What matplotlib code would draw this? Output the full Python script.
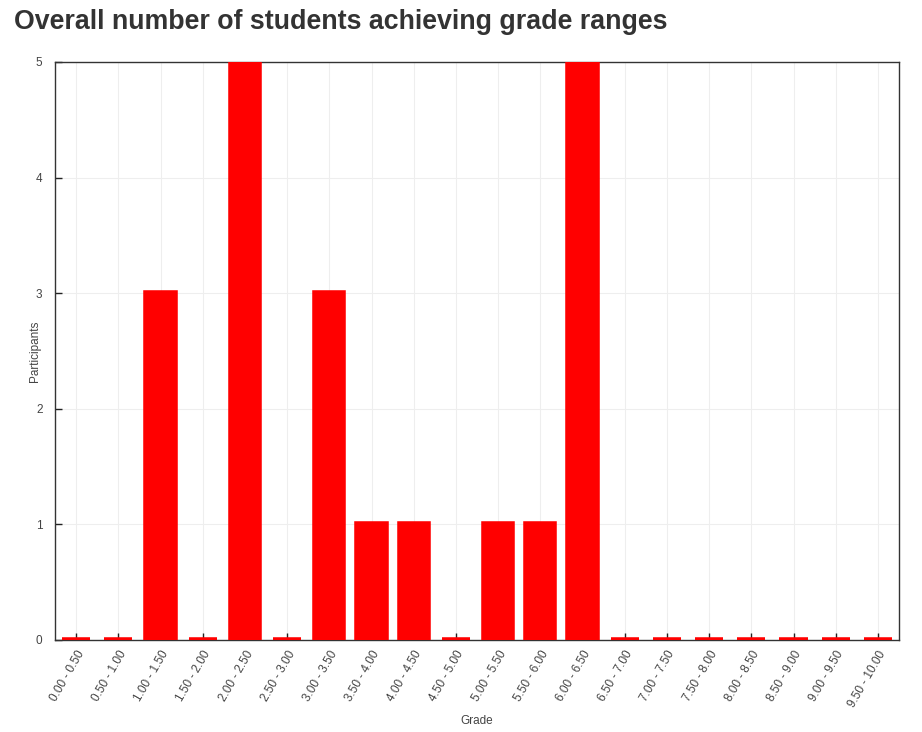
import numpy as np
import matplotlib
matplotlib.use("Agg")
import matplotlib.pyplot as plt

plt.rcParams['font.family'] = ['Liberation Sans', 'DejaVu Sans']

grade_ranges = ["0.00 - 0.50", "0.50 - 1.00", "1.00 - 1.50", "1.50 - 2.00",
                "2.00 - 2.50", "2.50 - 3.00", "3.00 - 3.50", "3.50 - 4.00",
                "4.00 - 4.50", "4.50 - 5.00", "5.00 - 5.50", "5.50 - 6.00",
                "6.00 - 6.50", "6.50 - 7.00", "7.00 - 7.50", "7.50 - 8.00",
                "8.00 - 8.50", "8.50 - 9.00", "9.00 - 9.50", "9.50 - 10.00"]
participants = [0, 0, 3, 0, 5, 0, 3, 1, 1, 0, 1, 1, 5, 0, 0, 0, 0, 0, 0, 0]

fig = plt.figure(figsize=(9.22, 7.32), dpi=100)
ax = fig.add_axes([55/922, 92/732, 844/922, 578/732])

x = np.arange(len(grade_ranges))
# thick red edge so the empty ranges still show a small red stub on the axis
ax.bar(x, participants, width=0.67, color='#ff0000', edgecolor='#ff0000',
       linewidth=4, zorder=3)

ax.set_xlim(-0.5, len(grade_ranges) - 0.5)
ax.set_ylim(0, 5)
ax.set_yticks([0, 1, 2, 3, 4, 5])
ax.set_xticks(x)
ax.set_xticklabels(grade_ranges, rotation=60, ha='right', rotation_mode='anchor')

ax.grid(True, color='#eeeeee', linewidth=0.8, zorder=0)
ax.set_axisbelow(True)
ax.tick_params(axis='both', direction='in', length=5, width=1, colors='#222222',
               labelsize=8.5, labelcolor='#444444')
ax.tick_params(axis='y', pad=9)
ax.tick_params(axis='x', pad=6)
for s in ax.spines.values():
    s.set_color('#333333')
    s.set_linewidth(1)

ax.set_xlabel("Grade", fontsize=8.5, color='#444444', labelpad=4)
ax.set_ylabel("Participants", fontsize=8.5, color='#444444', labelpad=-4)

fig.text(14/922, 1 - 22/732, "Overall number of students achieving grade ranges",
         fontsize=19.3, fontweight='bold', color='#333333', va='center', ha='left')

fig.savefig("out.png", dpi=100, facecolor='white')
